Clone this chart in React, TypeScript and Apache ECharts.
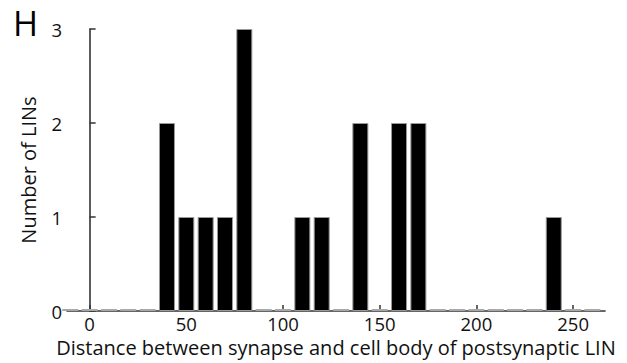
import React, { useEffect, useRef } from "react";
import * as echarts from "echarts";

// Histogram bin centres (µm) and counts of LINs
const binCenters = [-10, 0, 10, 20, 30, 40, 50, 60, 70, 80, 90, 100, 110, 120, 130, 140, 150, 160, 170, 180, 190, 200, 210, 220, 230, 240, 250, 260];
const counts = [0, 0, 0, 0, 0, 2, 1, 1, 1, 3, 0, 0, 1, 1, 0, 2, 0, 2, 2, 0, 0, 0, 0, 0, 0, 1, 0, 0];
const xTicks = [0, 50, 100, 150, 200, 250];
const yTicks = [0, 1, 2, 3];
const xTitle = "Distance between synapse and cell body of postsynaptic LIN";
const yTitle = "Number of LINs";
const panelLabel = "H";

const FONT = "Open Sans";

export default function App() {
  const ref = useRef<HTMLDivElement>(null);
  useEffect(() => {
    if (!ref.current) return;
    const chart = echarts.init(ref.current, undefined, { renderer: "svg" });
    const data = binCenters.map((c, i) =>
      counts[i] === 0
        ? { value: [c, counts[i]], itemStyle: { color: "#a8a8a8", borderWidth: 0 } }
        : { value: [c, counts[i]] }
    );
    chart.setOption({
      animation: false,
      backgroundColor: "#ffffff",
      textStyle: { fontFamily: FONT },
      grid: { left: 67, right: 22, top: 29, bottom: 52, containLabel: false },
      graphic: [
        {
          type: "text",
          left: 13,
          top: 6,
          style: { text: panelLabel, fontSize: 34, fontFamily: FONT, fill: "#000" },
        },
      ],
      xAxis: {
        type: "value",
        min: -11.7,
        max: 266.5,
        splitLine: { show: false },
        axisLine: { show: true, lineStyle: { color: "#333", width: 1.6 } },
        axisTick: { show: true, inside: true, length: 6, lineStyle: { color: "#333", width: 1.5 }, customValues: xTicks },
        axisLabel: { color: "#111", fontSize: 18.5, fontFamily: FONT, margin: 3, customValues: xTicks },
        name: xTitle,
        nameLocation: "middle",
        nameGap: 26,
        nameTextStyle: { color: "#111", fontSize: 20, fontFamily: FONT },
      },
      yAxis: {
        type: "value",
        min: yTicks[0],
        max: yTicks[yTicks.length - 1],
        interval: 1,
        splitLine: { show: false },
        axisLine: { show: true, lineStyle: { color: "#333", width: 1.6 } },
        axisTick: { show: true, inside: true, length: 6, lineStyle: { color: "#333", width: 1.5 } },
        axisLabel: { color: "#111", fontSize: 18.5, fontFamily: FONT, margin: 5 },
        name: yTitle,
        nameLocation: "middle",
        nameGap: 29,
        nameTextStyle: { color: "#111", fontSize: 20, fontFamily: FONT },
      },
      series: [
        {
          type: "bar",
          data,
          barWidth: 16,
          barMinHeight: 2,
          clip: true,
          itemStyle: { color: "#000", borderColor: "#999", borderWidth: 1 },
        },
      ],
    });
    return () => chart.dispose();
  }, []);
  return <div ref={ref} style={{ position: "fixed", left: 0, top: 0, width: 627, height: 363 }} />;
}
